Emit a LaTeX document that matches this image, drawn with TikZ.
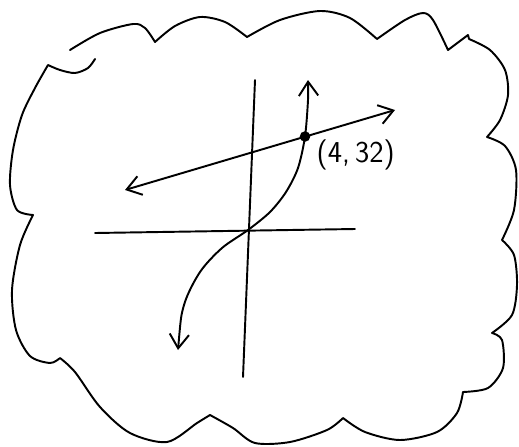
\documentclass[tikz,border=0pt]{standalone}
\usepackage{amsmath,amssymb}
\usepackage{tikz}
\usetikzlibrary{arrows.meta}

\begin{document}
\begin{tikzpicture}[x=0.02cm,y=-0.02cm,>={Straight Barb[length=8pt,width=11pt]},
    line width=1.1pt,line cap=round,line join=round,every node/.style={font=\LARGE\sffamily}]
  % cubic through the origin cut by a secant at (4,32), inside a cloud
  \useasboundingbox (0,0) rectangle (519,446);
  \draw plot[smooth] coordinates {(70,50) (100,33) (133,24) (145,28) (155,42)}
    -- plot[smooth] coordinates {(155,42) (175,26) (200,17) (225,22) (247,37)}
    -- plot[smooth] coordinates {(247,37) (280,20) (320,11) (350,18) (377,39)}
    -- plot[smooth] coordinates {(377,39) (405,20) (423,13) (433,20) (448,50)}
    -- (468,35) -- plot[smooth] coordinates {(469,39) (490,50) (505,70) (508,95) (500,120) (487,137)}
    -- plot[smooth] coordinates {(487,137) (505,146) (516,170) (514,210) (502,240)}
    -- plot[smooth] coordinates {(502,240) (514,255) (517,285) (512,315) (492,333)}
    -- plot[smooth] coordinates {(492,333) (502,340) (503,368) (488,388) (463,392)}
    -- plot[smooth] coordinates {(463,392) (457,413) (437,432) (400,440) (365,432) (343,418)}
    -- plot[smooth] coordinates {(343,418) (327,430) (290,442) (255,443) (233,428) (210,415)}
    -- plot[smooth] coordinates {(210,415) (197,423) (167,442) (130,433) (100,407) (75,372) (60,358)}
    -- plot[smooth] coordinates {(60,358) (50,363) (30,356) (16,330) (12,290) (20,245) (33,215)}
    -- plot[smooth] coordinates {(33,215) (17,210) (10,185) (13,150) (22,115) (35,88) (48,65)}
    -- plot[smooth] coordinates {(48,65) (60,70) (75,73) (88,68) (95,59)};
  \coordinate (ytop) at (255,80);
  \coordinate (ybot) at (243,377);
  \coordinate (xleft) at (95,233);
  \coordinate (xright) at (355,229);
  \coordinate (sleft) at (125,190);
  \coordinate (sright) at (395,110);
  \draw (xleft) -- (xright);
  \draw (ytop) -- (ybot);
  \draw[<->] (sleft) -- (sright);
  \draw[<->] plot[smooth] coordinates {(178,350) (184,305) (200,272) (222,248) (248,230)
    (270,212) (286,192) (298,168) (305,136.5) (308,100) (308,80)};
  \node[circle,fill,inner sep=0pt,minimum size=6pt] (P) at (305,136.5) {};
  \node[anchor=north west,inner sep=1pt] (lbl) at (314,137) {(4,\,32)};
\end{tikzpicture}
\end{document}
